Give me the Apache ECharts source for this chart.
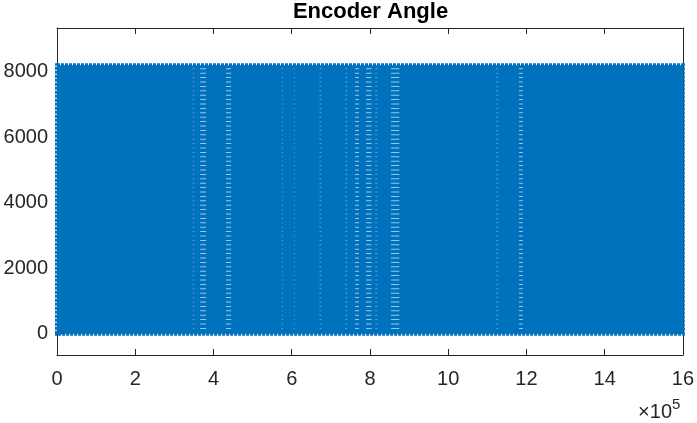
<!DOCTYPE html>
<html>
<head>
<meta charset="utf-8">
<script src="https://cdn.jsdelivr.net/npm/echarts@6/dist/echarts.min.js"></script>
<style>
html,body{margin:0;padding:0;background:#fff;}
#chart{width:697px;height:423px;}
</style>
</head>
<body>
<div id="chart"></div>
<script>
// ---- data ----
const sampleRange = [0, 1600000];          // sample index span of the recording
const angleRange = [0, 8191];              // encoder counts span (13-bit)
// slow-rotation stretches where individual ramps become visible (sample index)
const stripeStart = [347000, 366000, 432000, 575000, 606000, 671000, 737000, 762000, 790000, 814000, 854000, 1123000, 1181000];
const stripeEnd   = [351000, 381000, 445000, 578000, 608000, 676000, 742000, 772000, 804000, 819000, 875000, 1128000, 1191000];
const xTicks = [0, 2, 4, 6, 8, 10, 12, 14, 16];
const yTicks = [0, 2000, 4000, 6000, 8000];

const BLUE = '#0072BD';
const AX = '#262626';
const FONT = '"Liberation Sans", Arial, sans-serif';

const chart = echarts.init(document.getElementById('chart'), null, {renderer: 'canvas'});

const bandData = [[sampleRange[0], sampleRange[1], angleRange[0], angleRange[1]]];
const stripeData = stripeStart.map((s, i) => [s, stripeEnd[i], angleRange[0], angleRange[1]]);

const xCommon = {
  type: 'value', min: 0, max: 1600000, interval: 200000,
  splitLine: {show: false},
  axisLine: {show: true, onZero: false, lineStyle: {color: AX, width: 1}},
  axisTick: {show: true, inside: true, length: 6, lineStyle: {color: AX}}
};
const yCommon = {
  type: 'value', min: -650, max: 9330,
  splitLine: {show: false},
  axisLine: {show: true, onZero: false, lineStyle: {color: AX, width: 1}},
  axisTick: {show: true, inside: true, length: 6, customValues: yTicks, lineStyle: {color: AX}}
};

const option = {
  animation: false,
  backgroundColor: '#fff',
  grid: {left: 57, right: 13, top: 28, bottom: 68, containLabel: false},
  xAxis: [
    Object.assign({}, xCommon, {
      position: 'bottom',
      axisLabel: {show: true, margin: 14, color: AX, fontSize: 20, fontFamily: FONT,
        formatter: v => String(Math.round(v / 100000))}
    }),
    Object.assign({}, xCommon, {position: 'top', axisLabel: {show: false}})
  ],
  yAxis: [
    Object.assign({}, yCommon, {
      position: 'left',
      axisLabel: {show: true, margin: 9, color: AX, fontSize: 20, fontFamily: FONT, customValues: yTicks,
        formatter: v => String(v)}
    }),
    Object.assign({}, yCommon, {position: 'right', axisLabel: {show: false}})
  ],
  series: [
    {
      type: 'custom', clip: false, z: 2,
      data: bandData,
      renderItem: function (params, api) {
        const p0 = api.coord([api.value(0), api.value(3)]);
        const p1 = api.coord([api.value(1), api.value(2)]);
        return {
          type: 'rect',
          shape: {x: p0[0], y: p0[1], width: p1[0] - p0[0], height: p1[1] - p0[1]},
          style: {fill: BLUE, stroke: BLUE, lineWidth: 4, lineDash: [3, 1]}
        };
      }
    },
    {
      type: 'custom', clip: true, z: 3,
      data: stripeData,
      renderItem: function (params, api) {
        const p0 = api.coord([api.value(0), api.value(3)]);
        const p1 = api.coord([api.value(1), api.value(2)]);
        const w = Math.max(1, p1[0] - p0[0]);
        const cx = (p0[0] + p1[0]) / 2;
        const strong = w > 3;
        return {
          type: 'line',
          shape: {x1: cx, y1: p0[1] + 3, x2: cx, y2: p1[1] - 2},
          style: {stroke: '#ffffff', lineWidth: w, lineDash: [1, 3.4],
                  opacity: strong ? 0.6 : 0.35}
        };
      }
    }
  ],
  graphic: [
    {type: 'text', x: 370.5, y: 1, style: {text: 'Encoder Angle', fill: '#000', font: 'bold 22px ' + FONT, textAlign: 'center', textVerticalAlign: 'top'}},
    {type: 'text', x: 672, y: 422, style: {text: '×10', fill: AX, font: '20px ' + FONT, textAlign: 'right', textVerticalAlign: 'bottom'}},
    {type: 'text', x: 672, y: 397, style: {text: '5', fill: AX, font: '15px ' + FONT, textAlign: 'left', textVerticalAlign: 'top'}}
  ]
};
chart.setOption(option);
</script>
</body>
</html>
